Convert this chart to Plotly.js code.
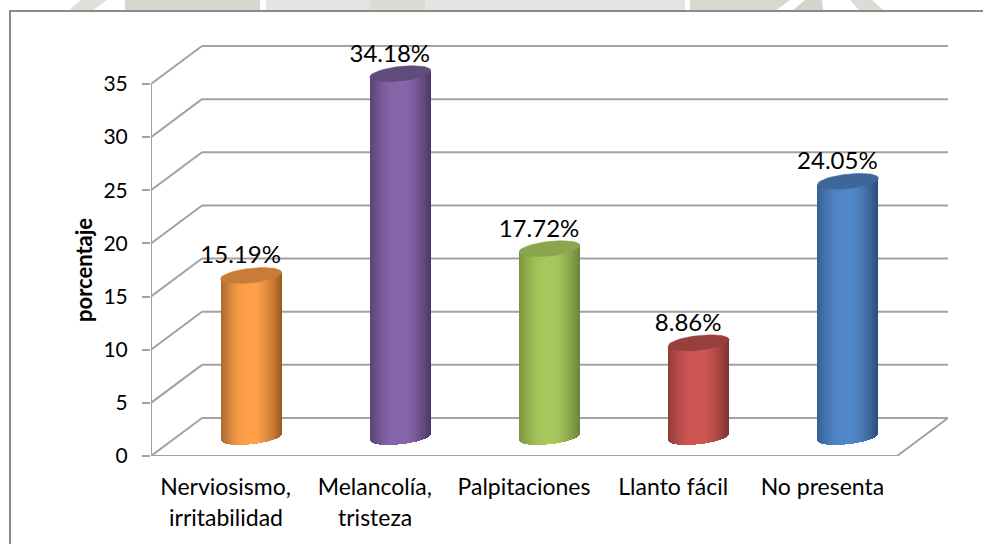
<!DOCTYPE html>
<html>
<head>
<meta charset="utf-8">
<script src="https://cdn.plot.ly/plotly-3.0.1.min.js"></script>
<style>html,body{margin:0;padding:0;background:#fff}#c{width:983px;height:544px}</style>
</head>
<body>
<div id="c"></div>
<script>
// ---- data ----
var line1 = ["Nerviosismo,", "Melancolía,", "Palpitaciones", "Llanto fácil", "No presenta"];
var line2 = ["irritabilidad", "tristeza", "", "", ""];
var values = [15.19, 34.18, 17.72, 8.86, 24.05];
var labels = ["15.19%", "34.18%", "17.72%", "8.86%", "24.05%"];
var yTicks = [0, 5, 10, 15, 20, 25, 30, 35];
var yTitle = "porcentaje";

// ---- look ----
var edgeL = ["#a86a2e", "#5a4475", "#7a933f", "#8f3c39", "#35608f"];
var mid   = ["#ff9f4a", "#8666aa", "#a6c75c", "#cf5552", "#5087c8"];
var edgeR = ["#94591f", "#4a3864", "#6a8238", "#7c3230", "#2a4d76"];
var caps  = ["#c97c38", "#5f4b7c", "#8ba64e", "#973f3c", "#3c6899"];
var gridColor = "#a2a2a2";
var font = "Lato, Carlito, sans-serif";

// ---- geometry in axis units ----
var L = 151, R = 948, T = 45, B = 456, W = 983, H = 544;
var pxX = 149.2, pxY = 372 / 35;               // pixels per axis unit
var depthX = 51 / pxX, depthY = 38 / pxY;      // back wall offset
var xMax = (R - L) / pxX, yMax = (B - T) / pxY;
var floorX = 5;
var radX = 30.5 / pxX, radY = 7.3 / pxY, tilt = 3.2 / pxY;
var nStrips = 61;
var cx = values.map(function (_, i) { return i + 0.5 + depthX / 2; });
var lift = depthY / 2;                         // bars stand half way back on the floor

function hex(c) { return [1, 3, 5].map(function (p) { return parseInt(c.substr(p, 2), 16); }); }
function mix(a, b, f) {
  var A = hex(a), B = hex(b);
  return "rgb(" + A.map(function (v, k) { return Math.round(v + (B[k] - v) * f); }).join(",") + ")";
}
function shade(i, t) {
  if (t < 0) { var f = Math.min(1, (t + 1) / 0.85); return mix(edgeL[i], mid[i], Math.sin(f * Math.PI / 2)); }
  var g = Math.max(0, (t - 0.1) / 0.9); return mix(mid[i], edgeR[i], Math.pow(g, 1.6));
}

var traces = [];
// cylinder bodies: one bar trace per vertical strip
for (var s = 0; s < nStrips; s++) {
  var t = -1 + 2 * (s + 0.5) / nStrips;
  var off = t * radX;
  var rim = tilt * t - radY * Math.sqrt(Math.max(0, 1 - t * t)) + lift;
  traces.push({
    type: "bar", hoverinfo: "skip", showlegend: false,
    x: cx.map(function (c) { return c + off; }),
    y: values.map(function (v) { return v + lift + tilt * t - rim; }),
    base: values.map(function () { return rim; }),
    width: 2 * radX / nStrips,
    marker: { color: values.map(function (_, i) { return shade(i, t); }), line: { width: 0 } }
  });
}
// cylinder caps
values.forEach(function (v, i) {
  var xs = [], ys = [];
  for (var a = 0; a <= 60; a++) {
    var th = a / 60 * 2 * Math.PI, c = Math.cos(th);
    xs.push(cx[i] + radX * c);
    ys.push(v + lift + tilt * c + radY * Math.sin(th));
  }
  traces.push({
    type: "scatter", mode: "lines", x: xs, y: ys, fill: "toself", fillcolor: caps[i],
    line: { color: caps[i], width: 0.5 }, hoverinfo: "skip", showlegend: false
  });
});
// value labels
traces.push({
  type: "scatter", mode: "text", showlegend: false, hoverinfo: "skip",
  x: cx.map(function (c) { return c - 10.5 / pxX; }),
  y: values.map(function (v) { return v + lift + 1.7; }),
  text: labels, textposition: "middle center", cliponaxis: false,
  textfont: { family: font, size: 24, color: "#000" }
});

// ---- walls and grid, drawn under the bars ----
var shapes = [];
function seg(x0, y0, x1, y1) {
  shapes.push({ type: "line", layer: "below", xref: "x", yref: "y", x0: x0, y0: y0, x1: x1, y1: y1,
    line: { color: gridColor, width: 2 } });
}
yTicks.forEach(function (v) {
  seg(0, v, depthX, v + depthY);
  seg(depthX, v + depthY, xMax, v + depthY);
});
seg(0, 0, 0, 35);
seg(0, 0, floorX, 0);
seg(floorX, 0, floorX + depthX, depthY);

// ---- picture frame and watermark remnants, in pixels ----
function px(x) { return (x - L) / (R - L); }
function py(y) { return (B - y) / (B - T); }
function poly(pts, color) {
  var d = pts.map(function (p, k) { return (k ? "L" : "M") + px(p[0]) + "," + py(p[1]); }).join(" ") + " Z";
  shapes.push({ type: "path", layer: "above", xref: "paper", yref: "paper", path: d,
    fillcolor: color, line: { width: 0 } });
}
poly([[81, 0], [107, 0], [92, 11], [68, 11]], "#dde1da");
poly([[125, 0], [260, 0], [260, 11], [125, 11]], "#d3d9cf");
poly([[266, 0], [685, 0], [685, 11], [266, 11]], "#e2e5e0");
poly([[370, 0], [425, 0], [425, 11], [370, 11]], "#d9ddd6");
poly([[690, 0], [790, 0], [775, 11], [690, 11]], "#d5dad1");
poly([[805, 0], [822, 0], [823, 11], [792, 11]], "#d0d6cb");
poly([[850, 0], [872, 0], [884, 11], [860, 11]], "#d9ddd6");
shapes.push({ type: "line", layer: "above", xref: "paper", yref: "paper",
  x0: px(10), y0: py(11), x1: px(983), y1: py(11), line: { color: "#8a8a8a", width: 2 } });
shapes.push({ type: "line", layer: "above", xref: "paper", yref: "paper",
  x0: px(10), y0: py(10), x1: px(10), y1: py(544), line: { color: "#8a8a8a", width: 2 } });

// second lines of the category labels, and the axis title
var annotations = [];
line2.forEach(function (txt, i) {
  if (!txt) return;
  annotations.push({ xref: "x", yref: "paper", x: i + 0.5, y: 0, yshift: -61, yanchor: "middle",
    text: txt, showarrow: false, font: { family: font, size: 23, color: "#000" } });
});
annotations.push({ xref: "paper", yref: "paper", x: px(83), y: py(270), textangle: -90,
  xanchor: "center", yanchor: "middle", showarrow: false,
  text: "<b>" + yTitle + "</b>", font: { family: font, size: 22, color: "#000" } });

var layout = {
  width: W, height: H, autosize: false,
  paper_bgcolor: "#fff", plot_bgcolor: "rgba(0,0,0,0)",
  margin: { l: L, r: W - R, t: T, b: H - B, pad: 0 },
  barmode: "overlay", bargap: 0, showlegend: false,
  xaxis: { range: [0, xMax], tickmode: "array",
    tickvals: line1.map(function (_, i) { return i + 0.5; }), ticktext: line1,
    showgrid: false, zeroline: false, showline: false, ticks: "", tickangle: 0,
    ticklabelstandoff: 15,
    tickfont: { family: font, size: 23, color: "#000" }, fixedrange: true },
  yaxis: { range: [0, yMax], tickmode: "array", tickvals: yTicks, ticktext: yTicks.map(String),
    showgrid: false, zeroline: false, showline: false, ticks: "outside", ticklen: 8,
    tickwidth: 2, tickcolor: gridColor, ticklabelstandoff: 10,
    tickfont: { family: font, size: 21, color: "#000" }, fixedrange: true },
  shapes: shapes, annotations: annotations
};
Plotly.newPlot("c", traces, layout, { displayModeBar: false, staticPlot: true });
</script>
</body>
</html>
